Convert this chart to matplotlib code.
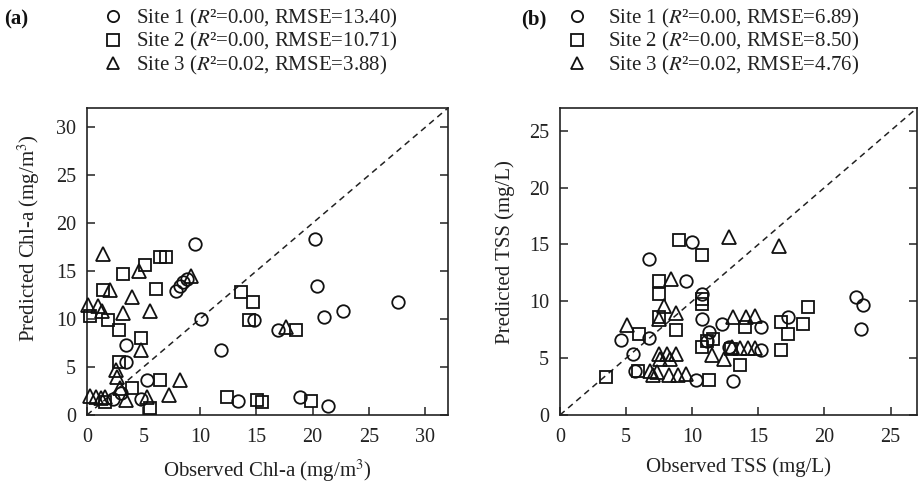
import matplotlib
matplotlib.use("Agg")
import matplotlib.pyplot as plt

plt.rcParams['font.family'] = ['Liberation Serif', 'DejaVu Serif']
plt.rcParams['mathtext.fontset'] = 'stix'

# ---------------- data: panel (a) Chl-a ----------------
a_site1_x = [9.6, 7.85, 8.2, 8.55, 8.85, 10.1, 11.9, 3.5, 3.5, 5.3, 4.8, 2.3, 3.0, 13.4, 14.8, 16.9, 20.2, 20.4, 21.0, 22.7, 27.6, 18.9, 21.4]
a_site1_y = [17.8, 12.95, 13.4, 13.9, 14.2, 10.0, 6.8, 7.3, 5.55, 3.65, 1.7, 1.7, 2.3, 1.5, 9.9, 8.85, 18.3, 13.4, 10.2, 10.8, 11.8, 1.9, 0.9]
a_site2_x = [6.5, 7.0, 5.1, 3.15, 1.45, 6.15, 1.9, 2.85, 4.8, 2.8, 6.45, 3.95, 1.6, 5.55, 12.4, 13.65, 14.7, 14.4, 15.1, 15.5, 18.5, 19.9, 0.3]
a_site2_y = [16.5, 16.5, 15.6, 14.7, 13.0, 13.1, 9.9, 8.85, 8.0, 5.55, 3.65, 2.8, 1.4, 0.7, 1.9, 12.85, 11.8, 9.9, 1.55, 1.4, 8.85, 1.5, 10.3]
a_site3_x = [1.4, 4.6, 2.0, 9.2, 3.95, 0.1, 1.0, 1.3, 3.2, 5.55, 4.75, 2.6, 2.7, 2.9, 8.2, 7.3, 5.3, 3.5, 0.3, 0.8, 1.2, 1.6, 17.6]
a_site3_y = [16.8, 15.0, 13.0, 14.5, 12.3, 11.5, 11.35, 10.8, 10.6, 10.8, 6.8, 4.7, 4.0, 2.8, 3.65, 2.1, 1.9, 1.55, 2.0, 1.9, 1.8, 1.9, 9.2]
a_labels = ["Site 1 ($R$²=0.00, RMSE=13.40)",
            "Site 2 ($R$²=0.00, RMSE=10.71)",
            "Site 3 ($R$²=0.02, RMSE=3.88)"]

# ---------------- data: panel (b) TSS ----------------
b_site1_x = [10.0, 6.7, 9.5, 10.75, 10.75, 12.25, 11.25, 4.6, 6.7, 5.5, 11.1, 5.7, 10.25, 13.1, 12.75, 15.2, 15.2, 17.25, 22.4, 22.9, 22.75]
b_site1_y = [15.25, 13.7, 11.8, 10.6, 8.45, 8.0, 7.3, 6.6, 6.8, 5.4, 6.5, 3.9, 3.05, 3.0, 6.0, 7.7, 5.7, 8.6, 10.35, 9.7, 7.6]
b_site2_x = [9.0, 10.75, 7.5, 7.5, 10.75, 10.75, 7.5, 8.75, 6.0, 11.1, 11.6, 10.75, 12.9, 13.6, 5.9, 3.5, 11.25, 14.0, 16.75, 17.25, 18.4, 18.75, 16.75]
b_site2_y = [15.35, 14.1, 11.8, 10.6, 10.2, 9.8, 8.6, 7.45, 7.1, 6.55, 6.7, 6.0, 5.8, 4.4, 3.9, 3.35, 3.1, 7.7, 8.15, 7.15, 8.0, 9.5, 5.7]
b_site3_x = [12.75, 8.4, 7.9, 8.75, 7.5, 5.1, 13.1, 14.1, 14.75, 7.5, 8.1, 8.75, 7.6, 8.3, 6.8, 7.0, 7.3, 8.25, 8.9, 9.5, 11.5, 12.4, 13.0, 13.6, 14.2, 14.75, 16.6]
b_site3_y = [15.65, 11.95, 9.6, 9.0, 8.45, 7.95, 8.6, 8.6, 8.75, 5.4, 5.4, 5.4, 4.9, 4.9, 3.9, 3.5, 3.8, 3.5, 3.5, 3.6, 5.25, 4.95, 5.95, 5.9, 5.85, 5.9, 14.85]
b_labels = ["Site 1 ($R$²=0.00, RMSE=6.89)",
            "Site 2 ($R$²=0.00, RMSE=8.50)",
            "Site 3 ($R$²=0.02, RMSE=4.76)"]

a_ticks = [0, 5, 10, 15, 20, 25, 30]
b_ticks = [0, 5, 10, 15, 20, 25]

W, H = 918, 484
fig = plt.figure(figsize=(W / 100, H / 100), dpi=100)

def px_axes(l, r, t, b):
    return fig.add_axes([l / W, 1 - b / H, (r - l) / W, (b - t) / H])

axA = px_axes(87, 448, 108, 415)
axB = px_axes(560, 917, 108, 415)

TXT = '#222222'
MK = '#111111'
markers = ['o', 's', '^']
msizes = [9, 9, 9.5]

def draw(ax, xs, ys, lim, ticks, labels, xlabel, ylabel, leg_x, textpad,
         panel_label, panel_x, ylabelpad, ylabel_y):
    ax.plot([0, lim], [0, lim], linestyle=(0, (4, 3)), color='#222222', lw=1.1, zorder=1)
    handles = []
    for (x, y), m, ms, lab in zip(zip(xs, ys), markers, msizes, labels):
        h, = ax.plot(x, y, linestyle='none', marker=m, markersize=ms,
                     markerfacecolor='none', markeredgecolor=MK,
                     markeredgewidth=1.3, label=lab, zorder=3, clip_on=False)
        handles.append(h)
    ax.set_xlim(0, lim)
    ax.set_ylim(0, lim)
    ax.set_xticks(ticks)
    ax.set_yticks(ticks)
    ax.tick_params(direction='in', length=6, width=1.1, labelsize=14.5,
                   colors='#222222', right=True)
    ax.tick_params(axis='x', pad=9, labelcolor=TXT)
    ax.tick_params(axis='y', pad=8, labelcolor=TXT)
    for s in ax.spines.values():
        s.set_linewidth(1.2)
        s.set_color('#222222')
    ax.set_xlabel(xlabel, fontsize=15, color=TXT, labelpad=8)
    ax.set_ylabel(ylabel, fontsize=15, color=TXT, labelpad=ylabelpad)
    ax.yaxis.label.set_y(ylabel_y)
    leg = ax.legend(handles=handles, loc='upper left',
                    bbox_to_anchor=(leg_x / W, 1 - 7 / H),
                    bbox_transform=fig.transFigure, frameon=False,
                    fontsize=15, handlelength=1.0, handletextpad=textpad,
                    labelspacing=0.02, borderpad=0, borderaxespad=0,
                    markerscale=0.9)
    for t in leg.get_texts():
        t.set_color(TXT)
    fig.text(panel_x / W, 1 - 19 / H, panel_label, fontsize=15, fontweight='bold',
             color='#111111', va='center', ha='left')

draw(axA, [a_site1_x, a_site2_x, a_site3_x], [a_site1_y, a_site2_y, a_site3_y],
     32, a_ticks, a_labels, 'Observed Chl-a (mg/m$^3$)', 'Predicted Chl-a (mg/m$^3$)',
     103, 0.6, '(a)', 4, 10, 0.575)
draw(axB, [b_site1_x, b_site2_x, b_site3_x], [b_site1_y, b_site2_y, b_site3_y],
     27, b_ticks, b_labels, 'Observed TSS (mg/L)', 'Predicted TSS (mg/L)',
     567, 0.95, '(b)', 521, 10, 0.53)

fig.savefig('out.png', dpi=100)
